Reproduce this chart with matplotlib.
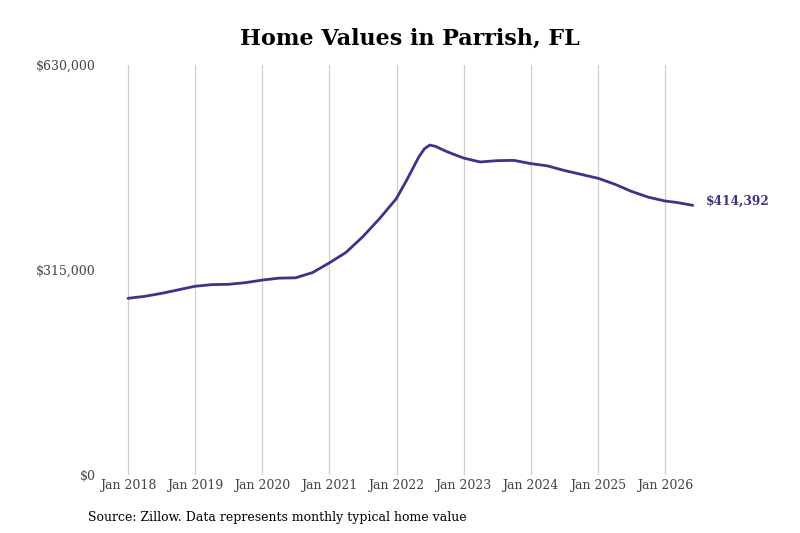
import matplotlib
matplotlib.use("Agg")
import matplotlib.pyplot as plt
import matplotlib.dates as mdates
from datetime import datetime

dates = ["2018-01", "2018-04", "2018-07", "2018-10",
         "2019-01", "2019-04", "2019-07", "2019-10",
         "2020-01", "2020-04", "2020-07", "2020-10",
         "2021-01", "2021-04", "2021-07", "2021-10",
         "2022-01", "2022-03", "2022-05", "2022-06", "2022-07", "2022-08", "2022-10",
         "2023-01", "2023-04", "2023-07", "2023-10",
         "2024-01", "2024-04", "2024-07", "2024-10",
         "2025-01", "2025-04", "2025-07", "2025-10",
         "2026-01", "2026-03", "2026-06"]
values = [271500, 274500, 279000, 284500,
          290000, 292500, 293000, 295500,
          299500, 302500, 303000, 311000,
          326000, 342000, 366000, 394000,
          425000, 455000, 488000, 501000, 507000, 505000, 497000,
          487000, 481000, 483000, 483500,
          478500, 475000, 468000, 462000,
          456000, 447000, 436000, 427000,
          421000, 419000, 414392]
tick_years = list(range(2018, 2027))
tick_labels = [f"Jan {y}" for y in tick_years]
y_ticks = [0, 315000, 630000]
y_tick_labels = ["$0", "$315,000", "$630,000"]
title = "Home Values in Parrish, FL"
source = "Source: Zillow. Data represents monthly typical home value"
end_label = "$414,392"

LINE = "#3b3487"
plt.rcParams['font.family'] = ['DejaVu Serif']

x = [mdates.date2num(datetime.strptime(d, "%Y-%m")) for d in dates]
x0 = mdates.date2num(datetime(2018, 1, 1))
x8 = mdates.date2num(datetime(2026, 1, 1))
pxday = (665 - 128) / (x8 - x0)

fig = plt.figure(figsize=(8, 5.33), dpi=100)
ax_left, ax_right = 100, 720
ax = fig.add_axes([ax_left / 800, (533 - 475) / 533, (ax_right - ax_left) / 800, 410 / 533])
ax.plot(x, values, color=LINE, lw=2.0, solid_capstyle='round', solid_joinstyle='round')
ax.set_xlim(x0 - (128 - ax_left) / pxday, x0 + (ax_right - 128) / pxday)
ax.set_ylim(0, 630000)

ax.set_xticks([mdates.date2num(datetime(y, 1, 1)) for y in tick_years])
ax.set_xticklabels(tick_labels)
ax.set_yticks(y_ticks)
ax.set_yticklabels(y_tick_labels)
ax.tick_params(axis='both', length=0, labelsize=9, colors="#444444")
ax.tick_params(axis='x', pad=3)
ax.tick_params(axis='y', pad=3)
ax.grid(axis='x', color="#cfcfcf", lw=0.9)
ax.grid(axis='y', visible=False)
for s in ax.spines.values():
    s.set_visible(False)

ax.annotate(end_label, xy=(x[-1], values[-1]), xytext=(9.5, 3), textcoords='offset points',
            va='center', ha='left', color=LINE, fontsize=8.8, fontweight='bold')

fig.text(410 / 800, 1 - 39 / 533, title, ha='center', va='center', fontsize=16, fontweight='bold', color='black')
fig.text(88 / 800, 1 - 517 / 533, source, ha='left', va='center', fontsize=9, color='black')

fig.savefig("out.png", dpi=100)
